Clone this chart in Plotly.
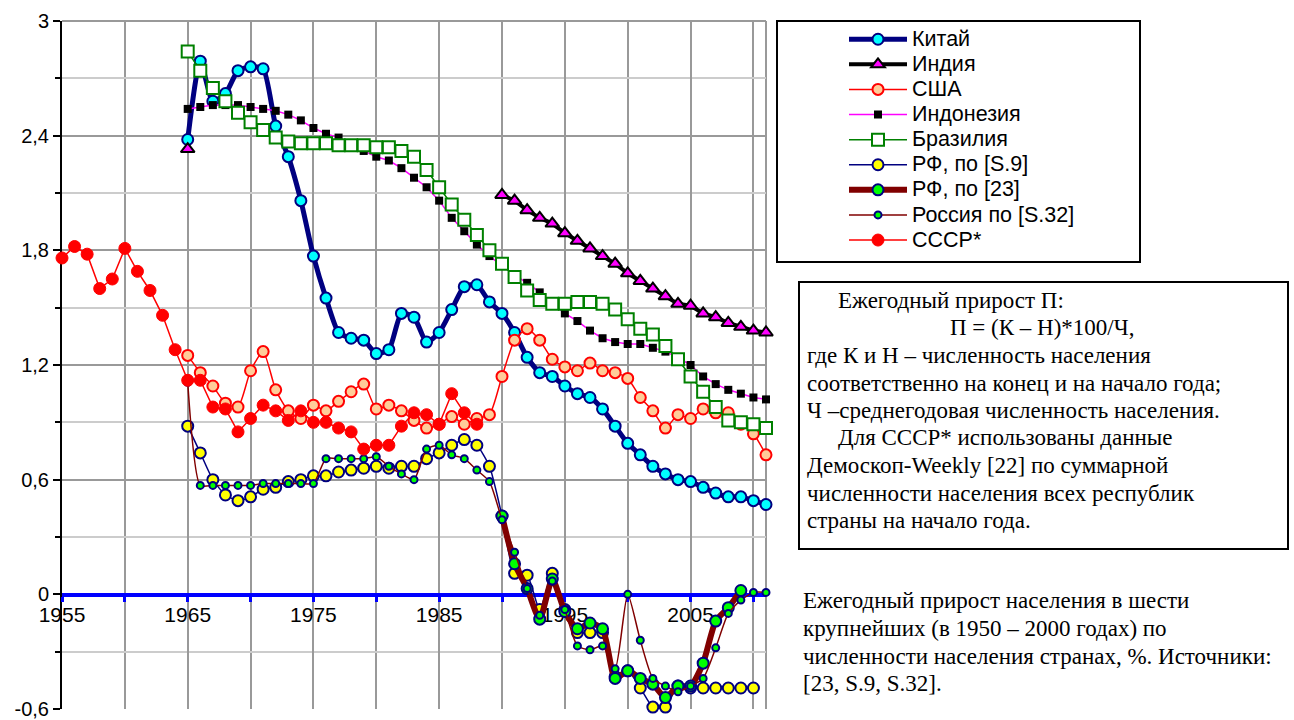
import plotly.graph_objects as go

# ---------------- data (annual population growth, %) ----------------
china_start = 1965
china = [2.38, 2.79, 2.58, 2.62, 2.74, 2.76, 2.75, 2.45, 2.29, 2.06,
         1.77, 1.55, 1.37, 1.34, 1.33, 1.26, 1.28, 1.47, 1.45, 1.32,
         1.37, 1.49, 1.61, 1.62, 1.53, 1.47, 1.37, 1.24, 1.16, 1.14,
         1.09, 1.05, 1.03, 0.97, 0.88, 0.79, 0.73, 0.67, 0.63, 0.60,
         0.59, 0.56, 0.53, 0.51, 0.51, 0.49, 0.47]

india_start = 1965
india = [2.33] + [None] * 24 + [2.09, 2.06, 2.01, 1.97, 1.94, 1.89, 1.85, 1.81, 1.77, 1.73,
                                1.68, 1.64, 1.60, 1.56, 1.52, 1.51, 1.47, 1.45, 1.42, 1.40,
                                1.38, 1.37]

usa_start = 1965
usa = [1.25, 1.16, 1.09, 1.00, 0.98, 1.17, 1.27, 1.07, 0.96, 0.92,
       0.99, 0.96, 1.01, 1.06, 1.10, 0.97, 0.99, 0.96, 0.91, 0.87,
       0.89, 0.93, 0.89, 0.92, 0.94, 1.14, 1.33, 1.39, 1.33, 1.23,
       1.19, 1.17, 1.21, 1.17, 1.16, 1.13, 1.03, 0.96, 0.87, 0.94,
       0.92, 0.97, 0.95, 0.95, 0.89, 0.84, 0.73]

indonesia_start = 1965
indonesia = [2.54, 2.55, 2.56, 2.56, 2.56, 2.55, 2.54, 2.53, 2.51, 2.48,
             2.44, 2.41, 2.39, 2.36, 2.32, 2.29, 2.27, 2.23, 2.18, 2.13,
             2.06, 1.97, 1.90, 1.83, 1.77, 1.72, 1.67, 1.63, 1.58, 1.52,
             1.47, 1.43, 1.38, 1.34, 1.32, 1.31, 1.31, 1.29, 1.27, 1.24,
             1.20, 1.14, 1.10, 1.07, 1.05, 1.03, 1.02]

brazil_start = 1965
brazil = [2.84, 2.74, 2.65, 2.58, 2.52, 2.47, 2.43, 2.39, 2.37, 2.36,
          2.36, 2.36, 2.35, 2.35, 2.35, 2.34, 2.34, 2.32, 2.29, 2.22,
          2.13, 2.04, 1.96, 1.88, 1.80, 1.73, 1.66, 1.59, 1.54, 1.52,
          1.52, 1.53, 1.53, 1.52, 1.49, 1.44, 1.39, 1.36, 1.30, 1.23,
          1.14, 1.06, 0.98, 0.91, 0.90, 0.89, 0.87]

rf_s9_start = 1965
rf_s9 = [0.88, 0.74, 0.60, 0.52, 0.49, 0.51, 0.55, 0.56, 0.59, 0.60,
         0.62, 0.62, 0.64, 0.65, 0.66, 0.67, 0.66, 0.67, 0.67, 0.71,
         0.74, 0.78, 0.81, 0.78, 0.67, 0.41, 0.11, 0.10, -0.08, 0.11,
         -0.08, -0.20, -0.20, -0.20, -0.43, -0.40, -0.49, -0.59, -0.59, -0.48,
         -0.49, -0.49, -0.49, -0.49, -0.49, -0.49]

rf_23_start = 1990
rf_23 = [0.41, 0.16, 0.03, -0.13, 0.08, -0.09, -0.18, -0.15, -0.18, -0.44,
         -0.40, -0.44, -0.47, -0.54, -0.48, -0.48, -0.36, -0.14, -0.07, 0.02]

ru_s32_start = 1965
ru_s32 = [1.11, 0.57, 0.57, 0.57, 0.57, 0.57, 0.58, 0.58, 0.58, 0.58,
          0.58, 0.71, 0.71, 0.71, 0.71, 0.72, 0.67, 0.63, 0.60, 0.76,
          0.78, 0.73, 0.71, 0.65, 0.59, 0.39, 0.22, 0.03, -0.11, 0.07,
          -0.08, -0.27, -0.29, -0.27, -0.39, 0.00, -0.24, -0.44, -0.48, -0.51,
          -0.48, -0.44, -0.28, -0.10, -0.03, 0.01, 0.01]

ussr_start = 1955
ussr = [1.76, 1.82, 1.78, 1.60, 1.65, 1.81, 1.69, 1.59, 1.46, 1.28,
        1.12, 1.12, 0.98, 0.97, 0.85, 0.92, 0.99, 0.96, 0.91, 0.96,
        0.90, 0.90, 0.87, 0.85, 0.76, 0.78, 0.78, 0.88, 0.95, 0.94,
        0.89, 1.05, 0.95, 0.89]

y_tickvals = [-0.6, 0, 0.6, 1.2, 1.8, 2.4, 3]
y_ticktext = ["-0,6", "0", "0,6", "1,2", "1,8", "2,4", "3"]
x_tickvals = [1955, 1965, 1975, 1985, 1995, 2005]
x_ticktext = ["1955", "1965", "1975", "1985", "1995", "2005"]

note_lines = [
    "Ежегодный прирост П:",
    "П = (К – Н)*100/Ч,",
    "где К и Н – численность населения",
    "соответственно на конец и на начало года;",
    "Ч –среднегодовая численность населения.",
    "Для СССР* использованы данные",
    "Демоскоп-Weekly [22] по суммарной",
    "численности населения всех республик",
    "страны на начало года.",
]
caption_lines = [
    "Ежегодный прирост населения в шести",
    "крупнейших (в 1950 – 2000 годах) по",
    "численности населения странах, %. Источники:",
    "[23, S.9, S.32].",
]

# ---------------- figure ----------------
NAVY = "#000080"
MAROON = "#800000"
SANS = "Liberation Sans, Arial, sans-serif"
SERIF = "Liberation Serif, Times New Roman, serif"
LEG_TXT = 21.5


def xs(start, vals):
    return list(range(start, start + len(vals)))


fig = go.Figure()


def add(name, start, vals, lcolor, lwidth, msym, msize, mcolor, mlcolor, mlwidth, shape="linear"):
    fig.add_trace(go.Scatter(
        x=xs(start, vals), y=vals,
        name='<span style="font-size:%spx">%s</span>' % (LEG_TXT, name),
        mode="lines+markers",
        line=dict(color=lcolor, width=lwidth, shape=shape, smoothing=0.6),
        marker=dict(symbol=msym, size=msize, color=mcolor,
                    line=dict(color=mlcolor, width=mlwidth)),
        connectgaps=False, cliponaxis=False,
    ))


add("Китай", china_start, china, NAVY, 5, "circle", 11, "#00FFFF", NAVY, 2, "spline")
add("Индия", india_start, india, "#000000", 4, "triangle-up", 12, "#FF00FF", "#000000", 2)
add("США", usa_start, usa, "#FF0000", 1.5, "circle", 11, "#FFCC99", "#FF0000", 2, "spline")
add("Индонезия", indonesia_start, indonesia, "#FF00FF", 1.5, "square", 8, "#000000", "#000000", 0)
add("Бразилия", brazil_start, brazil, "#008000", 1.5, "square", 12, "#FFFFFF", "#008000", 2)
add("РФ, по [S.9]", rf_s9_start, rf_s9, NAVY, 1.5, "circle", 11, "#FFFF00", NAVY, 2, "spline")
add("РФ, по [23]", rf_23_start, rf_23, MAROON, 6, "circle", 11, "#00FF00", NAVY, 2, "spline")
add("Россия по [S.32]", ru_s32_start, ru_s32, MAROON, 1.5, "circle", 7, "#00FF00", NAVY, 2, "spline")
add("СССР*", ussr_start, ussr, "#FF0000", 1.5, "circle", 12, "#FF0000", "#FF0000", 1)

L, R, T, B = 62, 766, 21, 709
W, H = 1294, 720


def px(xp):
    return (xp - L) / (R - L)


def py(yp):
    return (B - yp) / (B - T)


shapes = [
    dict(type="line", xref="paper", yref="paper", x0=1, x1=1, y0=0, y1=1,
         line=dict(color="#999999", width=2), layer="below"),
    dict(type="line", xref="paper", yref="paper", x0=0, x1=1, y0=1, y1=1,
         line=dict(color="#999999", width=2), layer="below"),
    dict(type="rect", xref="paper", yref="paper", x0=px(777), x1=px(1140), y0=py(262), y1=py(21),
         line=dict(color="#000000", width=2), fillcolor="rgba(0,0,0,0)"),
    dict(type="rect", xref="paper", yref="paper", x0=px(799), x1=px(1288), y0=py(549), y1=py(282),
         line=dict(color="#000000", width=2), fillcolor="rgba(0,0,0,0)"),
]

note_x = [836, 948, 805, 805, 805, 836, 805, 805, 805]
note_y = [300, 327, 355, 383, 410, 437, 465, 493, 520]
annotations = []
for t, xp, yp in zip(note_lines, note_x, note_y):
    annotations.append(dict(text=t, xref="paper", yref="paper", x=px(xp), y=py(yp),
                            xanchor="left", yanchor="middle", showarrow=False,
                            font=dict(family=SERIF, size=23, color="#000000")))
cap_y = [600, 628, 656, 683]
for t, yp in zip(caption_lines, cap_y):
    annotations.append(dict(text=t, xref="paper", yref="paper", x=px(801), y=py(yp),
                            xanchor="left", yanchor="middle", showarrow=False,
                            font=dict(family=SERIF, size=23, color="#000000")))

fig.update_layout(
    width=W, height=H,
    margin=dict(l=L, r=W - R, t=T, b=H - B, pad=0, autoexpand=False),
    paper_bgcolor="#FFFFFF", plot_bgcolor="#FFFFFF",
    font=dict(family=SANS, size=20, color="#000000"),
    showlegend=True,
    legend=dict(x=px(844), y=0.999, xanchor="left", yanchor="top",
                bgcolor="rgba(0,0,0,0)", borderwidth=0,
                font=dict(family=SANS, size=17, color="#000000"),
                itemwidth=58, itemsizing="trace", tracegroupgap=0),
    xaxis=dict(range=[1955, 2011], tickmode="array", tickvals=x_tickvals, ticktext=x_ticktext,
               anchor="free", position=(B - 595) / (B - T),
               showline=True, linecolor="#0000FF", linewidth=4,
               ticks="outside", ticklen=5, tickwidth=3, tickcolor="#0000FF",
               ticklabelstandoff=-5,
               showgrid=True, gridcolor="#999999", gridwidth=2,
               minor=dict(dtick=5, tick0=1955, showgrid=True, gridcolor="#999999", gridwidth=2,
                          ticks="outside", ticklen=5, tickwidth=3, tickcolor="#0000FF"),
               zeroline=False, layer="below traces",
               tickfont=dict(family=SANS, size=21, color="#000000")),
    yaxis=dict(range=[-0.6, 3], tickmode="array", tickvals=y_tickvals, ticktext=y_ticktext,
               showline=True, linecolor="#000000", linewidth=2,
               ticks="outside", ticklen=7, tickwidth=2, tickcolor="#000000",
               ticklabeloverflow="allow",
               showgrid=True, gridcolor="#999999", gridwidth=2,
               minor=dict(dtick=0.3, tick0=0, showgrid=True, gridcolor="#CCCCCC", gridwidth=2,
                          ticks="outside", ticklen=5, tickwidth=2, tickcolor="#000000"),
               zeroline=False, layer="below traces",
               tickfont=dict(family=SANS, size=20, color="#000000")),
    shapes=shapes,
    annotations=annotations,
)

fig.write_html("out.html", config={"displayModeBar": False},
               post_script="document.body.style.margin='0px';")
